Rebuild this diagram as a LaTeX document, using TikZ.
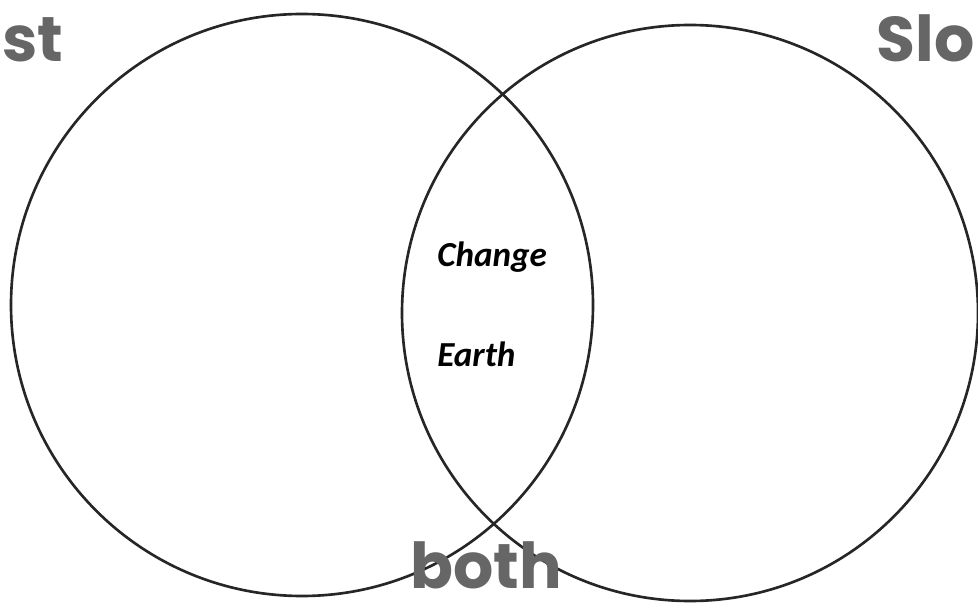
\documentclass[tikz,border=0pt]{standalone}
\usepackage{fontspec}
\setsansfont{Carlito}
\newfontfamily\setfont{Poppins}
\usetikzlibrary{positioning}

\begin{document}
\begin{tikzpicture}[x=0.02cm, y=-0.02cm,
  ring/.style={draw=black!85, line width=1.5pt},
  word/.style={font=\sffamily\bfseries\itshape\fontsize{20}{24}\selectfont, inner sep=0pt, anchor=base west},
  setname/.style={font=\setfont\bfseries\fontsize{36}{40}\selectfont, text=black!60, inner sep=0pt}]
\clip (0,0) rectangle (978,608);
\fill[white] (0,0) rectangle (978,608);
% the two sets
\draw[ring] (302,305) circle[radius=291];
\draw[ring] (690,313) circle[radius=288];
% set labels
\node[setname, anchor=base west] (fast) at (2,62) {st};
\node[setname, anchor=base east] (slow) at (975,62) {Slo};
\node[setname, anchor=base west] (both) at (410,588) {both};
% shared words
\node[word] (change) at (437,267) {Change};
\node[word, below=of change.base west, anchor=base west, yshift=-10mm] (earth) {Earth};
\end{tikzpicture}
\end{document}
